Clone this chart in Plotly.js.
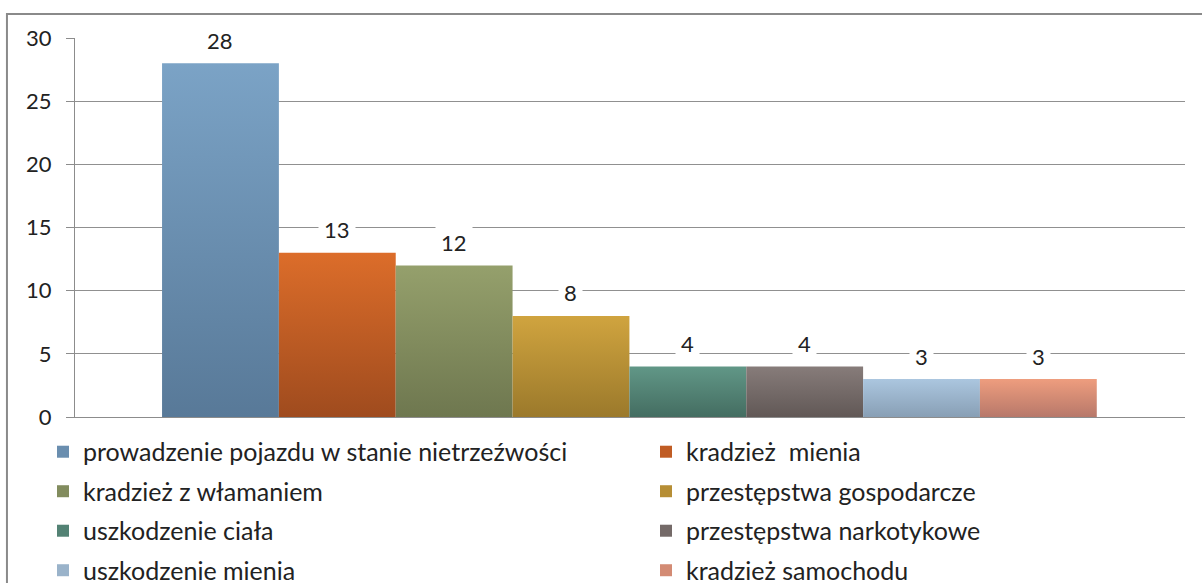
<!DOCTYPE html>
<html>
<head>
<meta charset="utf-8">
<script src="https://cdn.plot.ly/plotly-3.0.1.min.js"></script>
<style>
html,body{margin:0;padding:0;background:#fff;overflow:hidden;}
#chart{width:1202px;height:583px;}
</style>
</head>
<body>
<div id="chart"></div>
<script>
const categories = [
  "prowadzenie pojazdu w stanie nietrzeźwości",
  "kradzież  mienia",
  "kradzież z włamaniem",
  "przestępstwa gospodarcze",
  "uszkodzenie ciała",
  "przestępstwa narkotykowe",
  "uszkodzenie mienia",
  "kradzież samochodu"
];
const values = [28, 13, 12, 8, 4, 4, 3, 3];
const colorsTop = ["#7ba3c6", "#dc6d2a", "#95a06c", "#d0a43f", "#619787", "#877c7a", "#abc6df", "#ee9d7e"];
const colorsBottom = ["#587998", "#9f4b1e", "#6e774f", "#9b792b", "#446d61", "#615856", "#889fb5", "#b7786a"];
const colorsMid = ["#6a8eaf", "#c05c24", "#828c5e", "#b68e35", "#538274", "#746a68", "#9ab3ca", "#d38b74"];
const yTicks = [0, 5, 10, 15, 20, 25, 30];

const FONT = "Lato, 'Open Sans', sans-serif";

const traces = categories.map((name, i) => ({
  type: "bar",
  name: name,
  x: [name],
  y: [values[i]],
  width: [1],
  marker: {color: colorsMid[i], line: {width: 0}},
  legend: i % 2 === 0 ? "legend" : "legend2",
  legendgroup: "g" + i,
  hoverinfo: "skip"
}));

const annotations = categories.map((name, i) => ({
  x: name,
  y: values[i],
  xref: "x",
  yref: "y",
  text: String(values[i]),
  showarrow: false,
  yshift: 23,
  bgcolor: "#ffffff",
  borderpad: 5,
  font: {family: FONT, size: 22, color: "#222"}
}));

const legendCommon = {
  orientation: "v",
  xref: "container",
  yref: "container",
  xanchor: "left",
  yanchor: "top",
  y: 0.2642,
  bgcolor: "rgba(0,0,0,0)",
  tracegroupgap: 4,
  font: {family: FONT, size: 25, color: "#222"},
  traceorder: "grouped",
  itemclick: false
};

const layout = {
  width: 1202,
  height: 583,
  margin: {l: 75, r: 17, t: 38, b: 166, autoexpand: false},
  paper_bgcolor: "#ffffff",
  plot_bgcolor: "#ffffff",
  barmode: "overlay",
  showlegend: true,
  xaxis: {
    type: "category",
    categoryorder: "array",
    categoryarray: categories,
    range: [-1.245, 8.255],
    showticklabels: false,
    showgrid: false,
    zeroline: false,
    showline: true,
    linecolor: "#8c8c8c",
    linewidth: 1,
    ticks: ""
  },
  yaxis: {
    range: [0, 30],
    tickvals: yTicks,
    ticktext: yTicks.map(String),
    showgrid: true,
    gridcolor: "#909090",
    gridwidth: 1,
    zeroline: false,
    showline: true,
    linecolor: "#8c8c8c",
    linewidth: 1,
    ticks: "outside",
    ticklen: 8,
    tickcolor: "#8c8c8c",
    tickfont: {family: FONT, size: 22, color: "#222"},
    ticklabelstandoff: 10
  },
  legend: Object.assign({}, legendCommon, {x: 43 / 1202}),
  legend2: Object.assign({}, legendCommon, {x: 646 / 1202}),
  annotations: annotations,
  shapes: [{
    type: "rect",
    xref: "paper",
    yref: "paper",
    x0: -0.0613,
    x1: 1.3,
    y0: -1,
    y1: 1.0633,
    line: {color: "#8a8a8a", width: 2},
    layer: "below"
  }]
};

Plotly.newPlot("chart", traces, layout, {staticPlot: true, displayModeBar: false}).then(gd => {
  const svg = gd.querySelector("svg.main-svg");
  const ns = "http://www.w3.org/2000/svg";
  let defs = svg.querySelector("defs");
  if (!defs) { defs = document.createElementNS(ns, "defs"); svg.insertBefore(defs, svg.firstChild); }
  colorsTop.forEach((c, i) => {
    const g = document.createElementNS(ns, "linearGradient");
    g.setAttribute("id", "bargrad" + i);
    g.setAttribute("x1", "0"); g.setAttribute("y1", "0");
    g.setAttribute("x2", "0"); g.setAttribute("y2", "1");
    const s1 = document.createElementNS(ns, "stop");
    s1.setAttribute("offset", "0"); s1.setAttribute("stop-color", c);
    const s2 = document.createElementNS(ns, "stop");
    s2.setAttribute("offset", "1"); s2.setAttribute("stop-color", colorsBottom[i]);
    g.appendChild(s1); g.appendChild(s2);
    defs.appendChild(g);
  });
  gd.querySelectorAll(".barlayer .trace").forEach((tr, i) => {
    tr.querySelectorAll("path").forEach(p => { p.style.fill = "url(#bargrad" + i + ")"; });
  });
});
</script>
</body>
</html>
